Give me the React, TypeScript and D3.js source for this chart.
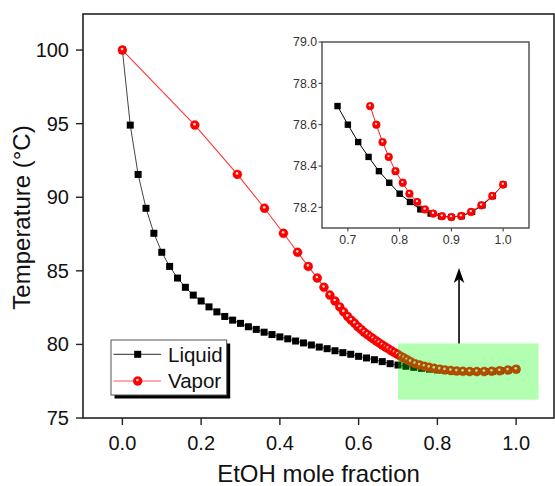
import React from "react";
import * as d3 from "d3";

// ---- data ----
const liquidX = [0, 0.02, 0.04, 0.06, 0.08, 0.1, 0.12, 0.14, 0.16, 0.18, 0.2, 0.22, 0.24, 0.26, 0.28, 0.3, 0.32, 0.34, 0.36, 0.38, 0.4, 0.42, 0.44, 0.46, 0.48, 0.5, 0.52, 0.54, 0.56, 0.58, 0.6, 0.62, 0.64, 0.66, 0.68, 0.7, 0.72, 0.74, 0.76, 0.78, 0.8, 0.82, 0.84, 0.86, 0.88, 0.9, 0.92, 0.94, 0.96, 0.98, 1.0];
const temperature = [100, 94.9, 91.55, 89.25, 87.55, 86.26, 85.3, 84.51, 83.88, 83.35, 82.95, 82.55, 82.21, 81.9, 81.65, 81.43, 81.2, 81.02, 80.83, 80.67, 80.51, 80.38, 80.23, 80.1, 79.96, 79.82, 79.71, 79.57, 79.44, 79.33, 79.19, 79.08, 78.96, 78.83, 78.69, 78.6, 78.516, 78.444, 78.375, 78.319, 78.266, 78.226, 78.19, 78.17, 78.157, 78.153, 78.158, 78.178, 78.21, 78.255, 78.31];
const vaporX = [0, 0.184, 0.292, 0.361, 0.409, 0.445, 0.472, 0.495, 0.512, 0.527, 0.54, 0.552, 0.562, 0.572, 0.581, 0.59, 0.598, 0.606, 0.614, 0.622, 0.63, 0.637, 0.645, 0.652, 0.66, 0.668, 0.675, 0.683, 0.691, 0.699, 0.707, 0.715, 0.723, 0.732, 0.743, 0.755, 0.767, 0.779, 0.792, 0.806, 0.819, 0.834, 0.849, 0.865, 0.882, 0.9, 0.919, 0.938, 0.958, 0.979, 1.0];

const xTicks = [0, 0.2, 0.4, 0.6, 0.8, 1.0];
const yTicks = [75, 80, 85, 90, 95, 100];
const insetXTicks = [0.7, 0.8, 0.9, 1.0];
const insetYTicks = [78.2, 78.4, 78.6, 78.8, 79.0];

const highlightX = [0.7, 1.057];
const highlightT = [76.25, 80.07];
const arrowX = 0.855;
const arrowT = [80.07, 85.2];

const seriesNames = ["Liquid", "Vapor"];

const FONT = "'Liberation Sans', Arial, Helvetica, sans-serif";

function Ball({ cx, cy, r }: { cx: number; cy: number; r: number }) {
  return (
    <g>
      <circle cx={cx} cy={cy} r={r} fill="#ff0000" stroke="#e00000" strokeWidth={0.4} />
      <circle cx={cx - r * 0.08} cy={cy - r * 0.22} r={r * 0.3} fill="#ffd0d0" />
    </g>
  );
}

export default function App() {
  const x = d3.scaleLinear().domain([-0.1, 1.1]).range([83, 555.5]);
  const y = d3.scaleLinear().domain([75, 102.45]).range([418, 14]);

  const ix = d3.scaleLinear().domain([0.65, 1.05]).range([322, 529]);
  const iy = d3.scaleLinear().domain([78.1, 79.0]).range([228, 42]);

  const liquid = liquidX.map((v, i) => [v, temperature[i]] as [number, number]);
  const vapor = vaporX.map((v, i) => [v, temperature[i]] as [number, number]);
  const insetLiquid = liquid.filter((d) => d[0] >= 0.67);
  const insetVapor = vapor.filter((d) => d[1] <= 78.7);

  const line = d3.line<[number, number]>().x((d) => x(d[0])).y((d) => y(d[1]));
  const iline = d3.line<[number, number]>().x((d) => ix(d[0])).y((d) => iy(d[1]));

  const sq = 7;
  const isq = 6.4;

  const ax = x(arrowX);
  const aTop = y(arrowT[1]);
  const aBot = y(arrowT[0]);

  return (
    <svg
      width={555}
      height={486}
      style={{ position: "absolute", left: 0, top: 0, background: "#fff" }}
      fontFamily={FONT}
    >
      {/* main frame */}
      <rect x={83} y={14} width={471} height={404} fill="none" stroke="#222" strokeWidth={1.6} />

      {/* y axis ticks */}
      {yTicks.map((t) => (
        <g key={"y" + t}>
          <line x1={76} x2={83} y1={y(t)} y2={y(t)} stroke="#222" strokeWidth={1.4} />
          <text x={69} y={y(t) + 7} textAnchor="end" fontSize={20} fill="#111">
            {t}
          </text>
        </g>
      ))}
      {/* x axis ticks */}
      {xTicks.map((t) => (
        <g key={"x" + t}>
          <line x1={x(t)} x2={x(t)} y1={418} y2={425} stroke="#222" strokeWidth={1.4} />
          <text x={x(t)} y={449.5} textAnchor="middle" fontSize={20} fill="#111">
            {t.toFixed(1)}
          </text>
        </g>
      ))}

      <text x={318.5} y={482} textAnchor="middle" fontSize={24} fill="#111">
        EtOH mole fraction
      </text>
      <text
        transform={`translate(30,217.5) rotate(-90)`}
        textAnchor="middle"
        fontSize={24}
        fill="#111"
      >
        Temperature (°C)
      </text>

      {/* main series */}
      <path d={line(liquid) || ""} fill="none" stroke="#444" strokeWidth={1} />
      {liquid.map((d, i) => (
        <rect key={"l" + i} x={x(d[0]) - sq / 2} y={y(d[1]) - sq / 2} width={sq} height={sq} fill="#000" />
      ))}
      <path d={line(vapor) || ""} fill="none" stroke="#ff3535" strokeWidth={1.1} />
      {vapor.map((d, i) => (
        <Ball key={"v" + i} cx={x(d[0])} cy={y(d[1])} r={4.5} />
      ))}

      {/* highlight box */}
      <rect
        x={x(highlightX[0])}
        y={y(highlightT[1])}
        width={x(highlightX[1]) - x(highlightX[0])}
        height={y(highlightT[0]) - y(highlightT[1])}
        fill="#00ff00"
        fillOpacity={0.3}
      />

      {/* arrow */}
      <line x1={ax} x2={ax} y1={aBot} y2={aTop + 8} stroke="#000" strokeWidth={1.6} />
      <path
        d={`M${ax},${aTop} L${ax - 5.3},${aTop + 15} L${ax},${aTop + 11} L${ax + 5.3},${aTop + 15} Z`}
        fill="#000"
      />

      {/* legend */}
      <rect x={114.5} y={343.5} width={115.7} height={55} fill="#000" />
      <rect x={111} y={340} width={115.7} height={55} fill="#fff" stroke="#555" strokeWidth={1} />
      <line x1={113.5} x2={161} y1={354.3} y2={354.3} stroke="#555" strokeWidth={1.2} />
      <rect x={137.7 - sq / 2} y={354.3 - sq / 2} width={sq} height={sq} fill="#000" />
      <text x={168} y={361.5} fontSize={20.5} fill="#111">
        {seriesNames[0]}
      </text>
      <line x1={113.5} x2={161} y1={381} y2={381} stroke="#ff5555" strokeWidth={1.2} />
      <Ball cx={137.7} cy={381} r={4.5} />
      <text x={168} y={388.2} fontSize={20.5} fill="#111">
        {seriesNames[1]}
      </text>

      {/* inset */}
      <rect x={322} y={42} width={207} height={186} fill="#fff" stroke="#555" strokeWidth={1.5} />
      {insetYTicks.map((t) => (
        <g key={"iy" + t}>
          <line x1={318.5} x2={322} y1={iy(t)} y2={iy(t)} stroke="#333" strokeWidth={1} />
          <text x={317} y={iy(t) + 4.3} textAnchor="end" fontSize={12.3} fill="#333">
            {t.toFixed(1)}
          </text>
        </g>
      ))}
      {insetXTicks.map((t) => (
        <g key={"ix" + t}>
          <line x1={ix(t)} x2={ix(t)} y1={228} y2={231.5} stroke="#333" strokeWidth={1} />
          <text x={ix(t)} y={243.5} textAnchor="middle" fontSize={12.3} fill="#333">
            {t.toFixed(1)}
          </text>
        </g>
      ))}
      <path d={iline(insetLiquid) || ""} fill="none" stroke="#000" strokeWidth={1} />
      {insetLiquid.map((d, i) => (
        <rect key={"il" + i} x={ix(d[0]) - isq / 2} y={iy(d[1]) - isq / 2} width={isq} height={isq} fill="#000" />
      ))}
      <path d={iline(insetVapor) || ""} fill="none" stroke="#ff1a1a" strokeWidth={1} />
      {insetVapor.map((d, i) => (
        <Ball key={"iv" + i} cx={ix(d[0])} cy={iy(d[1])} r={3.9} />
      ))}
    </svg>
  );
}
